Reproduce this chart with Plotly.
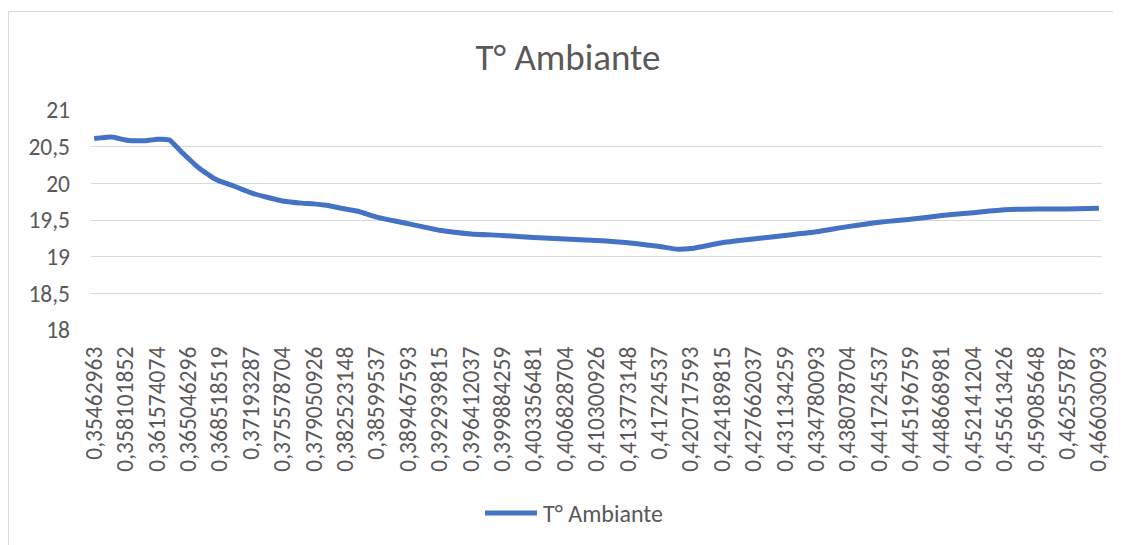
import plotly.graph_objects as go

# Tick labels (time as fraction of a day), one every 5 samples
tick_labels = [
    "0,35462963", "0,358101852", "0,361574074", "0,365046296", "0,368518519",
    "0,37193287", "0,375578704", "0,379050926", "0,382523148", "0,38599537",
    "0,389467593", "0,392939815", "0,396412037", "0,399884259", "0,403356481",
    "0,406828704", "0,410300926", "0,413773148", "0,41724537", "0,420717593",
    "0,424189815", "0,427662037", "0,431134259", "0,434780093", "0,438078704",
    "0,441724537", "0,445196759", "0,448668981", "0,452141204", "0,455613426",
    "0,459085648", "0,46255787", "0,466030093",
]
tick_positions = [5 * k for k in range(len(tick_labels))]

# Sample index along the category axis and temperature
sample_index = [0, 1, 2, 3, 4, 5, 6, 7, 8, 9, 10, 11, 12, 13, 14, 15, 16, 17, 18, 19,
                20, 22, 25, 28, 30, 33, 35, 37, 40, 42, 45, 50, 55, 60, 65, 70, 75,
                80, 85, 88, 90, 93, 95, 97, 100, 105, 110, 115, 120, 125, 130, 135,
                140, 145, 150, 155, 160]
temperature = [20.61, 20.62, 20.63, 20.63, 20.61, 20.59, 20.58, 20.58, 20.58, 20.59,
               20.60, 20.60, 20.59, 20.51, 20.42, 20.34, 20.26, 20.19, 20.13, 20.07,
               20.03, 19.97, 19.87, 19.80, 19.76, 19.73, 19.72, 19.70, 19.65, 19.62,
               19.54, 19.45, 19.36, 19.31, 19.29, 19.26, 19.24, 19.22, 19.19, 19.16,
               19.14, 19.10, 19.11, 19.14, 19.19, 19.24, 19.29, 19.34, 19.41, 19.47,
               19.51, 19.56, 19.60, 19.64, 19.65, 19.65, 19.66]

series_name = "T° Ambiante"
FONT = "Calibri, Carlito, 'Open Sans', sans-serif"
GREY = "#595959"
BLUE = "#4472C4"

fig = go.Figure()
fig.add_trace(go.Scatter(
    x=sample_index, y=temperature, mode="lines", name=series_name,
    line=dict(color=BLUE, width=5, shape="spline", smoothing=0.5),
    showlegend=False,
))

# The page body adds an 8px offset; the figure is sized/placed to compensate
OFF = 8
W, H = 1121 - OFF, 545 - OFF
ml, mr, mt, mb = 91 - OFF, 19, 110 - OFF, 215
pw, ph = W - ml - mr, H - mt - mb


def px_x(p):
    return (p - OFF - ml) / pw


def px_y(p):
    return 1 - (p - OFF - mt) / ph


fig.update_layout(
    width=W, height=H,
    margin=dict(l=ml, r=mr, t=mt, b=mb, autoexpand=False),
    paper_bgcolor="white", plot_bgcolor="white",
    font=dict(family=FONT, color=GREY, size=23.5),
    title=dict(text=series_name, x=(568 - OFF) / W, xanchor="center",
               y=1 - (57 - OFF) / H, yanchor="middle",
               font=dict(family=FONT, size=37, color=GREY)),
    showlegend=False,
    xaxis=dict(range=[-0.5, 160.5], tickmode="array", tickvals=tick_positions,
               ticktext=tick_labels, tickangle=-90, showgrid=False,
               zeroline=False, showline=False, ticks="", ticklabelstandoff=11,
               tickfont=dict(family=FONT, size=23.5, color=GREY)),
    yaxis=dict(range=[18, 21], tickmode="array",
               tickvals=[18, 18.5, 19, 19.5, 20, 20.5, 21],
               ticktext=["18", "18,5", "19", "19,5", "20", "20,5", "21"],
               showgrid=True, gridcolor="#d9d9d9", gridwidth=1,
               zeroline=False, showline=False, ticks="", ticklabelstandoff=20,
               tickfont=dict(family=FONT, size=23.5, color=GREY)),
)

# Chart border (light grey frame around the whole chart area)
fig.add_shape(type="rect", xref="paper", yref="paper",
              x0=px_x(8.5), x1=px_x(1116.5), y0=px_y(560), y1=px_y(11.5),
              line=dict(color="#d9d9d9", width=1), fillcolor="rgba(0,0,0,0)",
              layer="below")

# Legend: swatch line + label
fig.add_shape(type="line", xref="paper", yref="paper",
              x0=px_x(485), x1=px_x(537), y0=px_y(513), y1=px_y(513),
              line=dict(color=BLUE, width=5))
fig.add_annotation(text=series_name, xref="paper", yref="paper",
                   x=px_x(541), y=px_y(513), xanchor="left", yanchor="middle",
                   showarrow=False, font=dict(family=FONT, size=24, color=GREY))

fig.write_html("out.html")
